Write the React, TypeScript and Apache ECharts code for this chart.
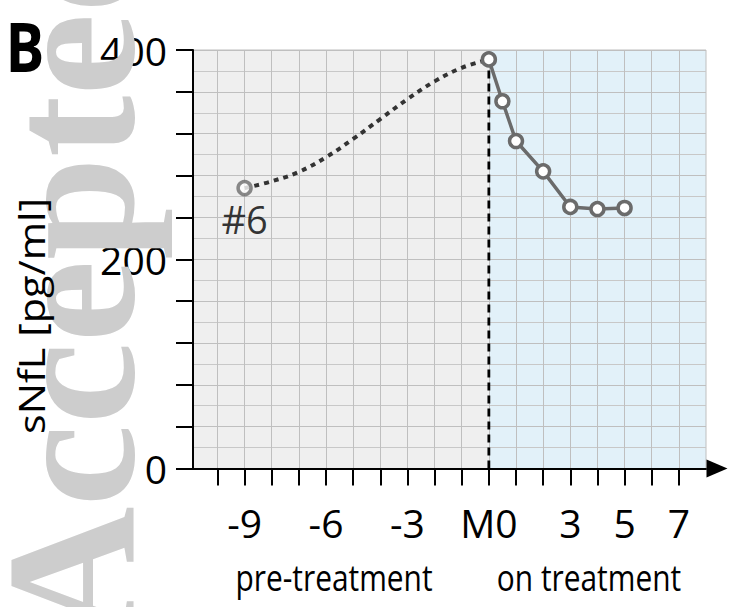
import { useEffect, useRef } from 'react';
import * as echarts from 'echarts';

// ---- data ----
const preMonths = [-9];
const preValues = [268];
const onMonths = [0, 0.5, 1, 2, 3, 4, 5];
const onValues = [391, 351, 313, 284, 250, 248, 249];
const trendMonths = [-9, -8, -7, -6, -5, -4, -3, -2, -1, 0];
const trendValues = [268, 274.5, 283.5, 297.5, 315, 334, 353, 370, 383, 391];
const xTickValues = [-10, -9, -8, -7, -6, -5, -4, -3, -2, -1, 0, 1, 2, 3, 4, 5, 6, 7];
const xLabelValues = [-9, -6, -3, 0, 3, 5, 7];
const yLabelValues = [0, 200, 400];
const phaseNames = ['pre-treatment', 'on treatment'];
const pointName = '#6';
const yTitle = 'sNfL [pg/ml]';
const panelLetter = 'B';
const watermark = 'Accepted';

const X_MIN = -10.9;
const X_MAX = 8;
const Y_MIN = 0;
const Y_MAX = 400;

const FONT = "'Open Sans', 'Noto Sans', sans-serif";

export default function App() {
  const ref = useRef<HTMLDivElement>(null);
  useEffect(() => {
    if (!ref.current) return;
    const chart = echarts.init(ref.current, undefined, { renderer: 'svg' });
    const markerStyle = { color: '#ffffff', borderColor: '#6b6b6b', borderWidth: 3.5 };
    const centered = { textAlign: 'center', textVerticalAlign: 'middle', align: 'center', verticalAlign: 'middle' };
    chart.setOption({
      animation: false,
      backgroundColor: '#ffffff',
      grid: {
        left: 193, right: 27, top: 50, bottom: 138.5,
        show: true, backgroundColor: 'transparent', borderColor: '#bfbfbf', borderWidth: 1,
      },
      xAxis: {
        type: 'value', min: X_MIN, max: X_MAX, interval: 1,
        axisLine: {
          show: true, onZero: false,
          lineStyle: { color: '#000', width: 2 },
          symbol: ['none', 'triangle'], symbolSize: [18, 21], symbolOffset: [0, 11],
        },
        axisTick: { show: true, customValues: xTickValues, length: 17, lineStyle: { color: '#000', width: 2 } },
        axisLabel: {
          customValues: xLabelValues,
          formatter: (v: number) => (v === 0 ? 'M0' : String(v)),
          fontSize: 39, color: '#000', fontFamily: FONT, margin: 34,
        },
        splitLine: { show: true, lineStyle: { color: '#bfbfbf', width: 1 } },
      },
      yAxis: {
        type: 'value', min: Y_MIN, max: Y_MAX, interval: 40,
        axisLine: { show: true, onZero: false, lineStyle: { color: '#000', width: 2 } },
        axisTick: { show: true, length: 17, lineStyle: { color: '#000', width: 2 } },
        axisLabel: {
          customValues: yLabelValues,
          fontSize: 39, color: '#000', fontFamily: FONT, margin: 26,
        },
        splitLine: { show: true, lineStyle: { color: '#bfbfbf', width: 1 } },
        minorTick: { show: false, splitNumber: 2 },
        minorSplitLine: { show: true, lineStyle: { color: '#c8c8c8', width: 1 } },
      },
      series: [
        {
          type: 'line', data: [], z: -5, silent: true,
          markArea: {
            silent: true, z: -5,
            label: { show: false },
            data: [
              [{ xAxis: X_MIN, itemStyle: { color: '#efefef', opacity: 1 } }, { xAxis: 0 }],
              [{ xAxis: 0, itemStyle: { color: '#e2f1f9', opacity: 1 } }, { xAxis: X_MAX }],
            ],
          },
        },
        {
          type: 'line', z: 3, silent: true, symbol: 'none',
          data: [[onMonths[0], Y_MIN], [onMonths[0], onValues[0]]],
          lineStyle: { color: '#000', width: 2.8, type: [8, 5] },
        },
        {
          type: 'line', z: 4, silent: true, symbol: 'none', smooth: 0.4,
          data: trendMonths.map((m, i) => [m, trendValues[i]]),
          lineStyle: { color: '#333333', width: 4, type: [5, 5] },
        },
        {
          type: 'line', z: 5, silent: true, symbol: 'circle', symbolSize: 13, showSymbol: true,
          data: onMonths.map((m, i) => [m, onValues[i]]),
          lineStyle: { color: '#6b6b6b', width: 3.5 },
          itemStyle: markerStyle,
        },
        {
          type: 'scatter', z: 5, silent: true, symbol: 'circle', symbolSize: 13,
          data: preMonths.map((m, i) => [m, preValues[i]]),
          itemStyle: markerStyle,
          label: {
            show: true, position: 'bottom', distance: 4,
            formatter: () => pointName,
            fontSize: 38, color: '#000', fontFamily: FONT,
          },
        },
      ],
      graphic: [
        {
          type: 'text', x: 70, y: 640, rotation: Math.PI / 2, z: 40, silent: true,
          style: {
            text: watermark, fontSize: 185, fontWeight: 'bold', fontFamily: "'Liberation Serif', serif", fill: '#cdcdcd',
            textAlign: 'left', textVerticalAlign: 'middle', align: 'left', verticalAlign: 'middle',
          },
        },
        {
          type: 'text', x: 25, y: 46, scaleX: 0.85, z: 50,
          style: { text: panelLetter, fontSize: 68, fontWeight: 'bold', fontFamily: FONT, fill: '#000', ...centered },
        },
        {
          type: 'text', x: 31, y: 316, rotation: Math.PI / 2, scaleX: 1.15, z: 50,
          style: { text: yTitle, fontSize: 36, fontFamily: FONT, fill: '#000', ...centered },
        },
        {
          type: 'text', x: 334, y: 577, scaleX: 0.83, z: 50,
          style: { text: phaseNames[0], fontSize: 36, fontFamily: FONT, fill: '#000', ...centered },
        },
        {
          type: 'text', x: 589, y: 577, scaleX: 0.83, z: 50,
          style: { text: phaseNames[1], fontSize: 36, fontFamily: FONT, fill: '#000', ...centered },
        },
      ],
    });
    return () => chart.dispose();
  }, []);
  return <div ref={ref} style={{ width: 733, height: 607, position: 'absolute', left: 0, top: 0 }} />;
}
